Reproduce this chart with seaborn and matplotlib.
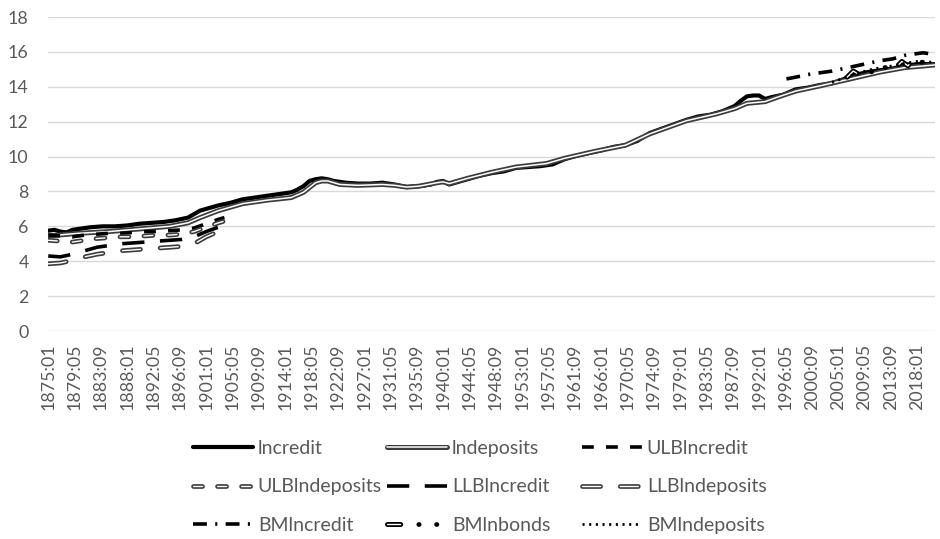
import matplotlib
matplotlib.use("Agg")
import matplotlib.pyplot as plt
import matplotlib.patheffects as pe
from matplotlib.legend_handler import HandlerTuple
import numpy as np
import pandas as pd
import seaborn as sns

# ---------------- data (log levels, monthly calendar 1875:01 - 2020:12) ----------------
lncredit_years = [1875, 1876, 1877, 1878, 1879, 1880, 1882, 1884, 1886, 1888, 1890, 1892, 1894,
                  1896, 1898, 1899, 1900, 1901, 1902, 1903, 1905, 1907, 1909, 1911, 1913, 1915,
                  1916, 1917, 1918, 1919, 1920, 1921, 1922, 1924, 1926, 1928, 1930, 1931, 1932,
                  1934, 1936, 1938, 1939, 1940, 1941, 1942, 1944, 1946, 1948, 1950, 1952, 1954,
                  1956, 1958, 1960, 1962, 1964, 1966, 1968, 1970, 1972, 1974, 1976, 1978, 1980,
                  1982, 1984, 1986, 1988, 1989, 1990, 1991, 1992, 1993, 1994, 1996, 1998, 2000,
                  2002, 2004, 2006, 2008, 2010, 2012, 2014, 2016, 2018, 2020.9]
lncredit = [5.75, 5.8, 5.7, 5.65, 5.8, 5.85, 5.95, 6.0, 6.0, 6.05, 6.15, 6.2, 6.25,
            6.35, 6.5, 6.7, 6.9, 7.0, 7.1, 7.2, 7.35, 7.55, 7.65, 7.75, 7.85, 7.95,
            8.1, 8.3, 8.6, 8.7, 8.75, 8.7, 8.6, 8.5, 8.45, 8.45, 8.5, 8.45, 8.4,
            8.25, 8.3, 8.4, 8.55, 8.6, 8.4, 8.5, 8.7, 8.9, 9.05, 9.15, 9.35, 9.4,
            9.45, 9.55, 9.85, 10.05, 10.2, 10.35, 10.55, 10.65, 10.9, 11.35, 11.6, 11.85, 12.1,
            12.3, 12.4, 12.6, 12.9, 13.2, 13.45, 13.5, 13.5, 13.3, 13.4, 13.55, 13.85, 13.95,
            14.1, 14.2, 14.45, 14.7, 14.85, 14.95, 15.05, 15.2, 15.3, 15.3]

lndeposits_years = [1875, 1880, 1885, 1890, 1895, 1898, 1900, 1903, 1907, 1911, 1915, 1917,
                    1919, 1920, 1921, 1923, 1926, 1930, 1932, 1934, 1936, 1939, 1940, 1941,
                    1944, 1948, 1952, 1957, 1960, 1965, 1970, 1974, 1980, 1985, 1988, 1990,
                    1993, 1995, 1998, 2002, 2007, 2012, 2016, 2020.9]
lndeposits = [5.45, 5.6, 5.7, 5.85, 6.0, 6.2, 6.5, 6.9, 7.3, 7.5, 7.65, 7.95,
              8.5, 8.6, 8.6, 8.4, 8.35, 8.4, 8.35, 8.25, 8.3, 8.5, 8.55, 8.45,
              8.75, 9.1, 9.4, 9.6, 9.9, 10.3, 10.65, 11.3, 12.05, 12.45, 12.75, 13.05,
              13.15, 13.4, 13.75, 14.05, 14.45, 14.85, 15.1, 15.25]

bounds_years = [1875, 1877, 1879, 1881, 1883, 1885, 1887, 1889, 1891, 1893, 1895, 1897,
                1899, 1901, 1903, 1904]
ulb_lncredit = [5.5, 5.45, 5.4, 5.5, 5.55, 5.6, 5.6, 5.65, 5.7, 5.7, 5.75, 5.8,
                5.9, 6.15, 6.4, 6.5]
ulb_lndeposits = [5.2, 5.15, 5.1, 5.2, 5.3, 5.35, 5.4, 5.4, 5.45, 5.5, 5.5, 5.55,
                  5.7, 5.95, 6.2, 6.3]
llb_lncredit = [4.3, 4.25, 4.4, 4.6, 4.8, 4.9, 5.0, 5.05, 5.1, 5.15, 5.2, 5.25,
                5.4, 5.7, 5.95, 6.05]
llb_lndeposits = [3.85, 3.9, 4.05, 4.25, 4.4, 4.5, 4.6, 4.65, 4.7, 4.75, 4.8, 4.85,
                  5.0, 5.4, 5.7, 5.8]

bm_credit_years = [1996.5, 1998, 2000, 2002, 2004, 2006, 2008, 2010, 2012, 2014, 2016, 2018,
                   2019, 2020.9]
bm_lncredit = [14.45, 14.55, 14.7, 14.8, 14.9, 15.05, 15.2, 15.35, 15.5, 15.6, 15.8, 15.9,
               15.95, 15.85]

bm_bonds_years = [2006.5, 2007.5, 2008.5, 2009.5, 2010.5, 2011.5, 2012.5, 2013.5, 2014.5,
                  2015.5, 2016.5, 2017.5, 2018.5, 2019.5, 2020.9]
bm_lnbonds = [14.55, 14.9, 14.7, 15.05, 14.85, 15.2, 15.0, 15.35, 15.1, 15.45, 15.2, 15.6,
              15.3, 15.65, 15.35]

bm_dep_years = [2004, 2006, 2008, 2010, 2012, 2014, 2016, 2018, 2020.9]
bm_lndeposits = [14.25, 14.5, 14.75, 14.95, 15.1, 15.2, 15.35, 15.45, 15.4]

tick_labels = ["1875:01", "1879:05", "1883:09", "1888:01", "1892:05", "1896:09", "1901:01",
               "1905:05", "1909:09", "1914:01", "1918:05", "1922:09", "1927:01", "1931:05",
               "1935:09", "1940:01", "1944:05", "1948:09", "1953:01", "1957:05", "1961:09",
               "1966:01", "1970:05", "1974:09", "1979:01", "1983:05", "1987:09", "1992:01",
               "1996:05", "2000:09", "2005:01", "2009:05", "2013:09", "2018:01"]

n_months = 1752          # 1875:01 .. 2020:12


def month_index(label):
    y, m = label.split(":")
    return (int(y) - 1875) * 12 + int(m) - 1


def to_frame(years, values):
    return pd.DataFrame({"month": (np.asarray(years, float) - 1875.0) * 12.0,
                         "value": values})


# ---------------- style ----------------
sns.set_theme(style="white")
plt.rcParams["font.family"] = ["Lato", "DejaVu Sans"]
plt.rcParams["lines.scale_dashes"] = False
TEXT = "#595959"
GRID = "#d9d9d9"

fig = plt.figure(figsize=(9.4, 5.39), dpi=100)
ax = fig.add_axes([48 / 940, 1 - 331 / 539, (935 - 48) / 940, (331 - 17) / 539])


def double(outer, width):
    return [pe.Stroke(linewidth=width, foreground=outer), pe.Normal()]


# each entry: label, x years, values, list of line layers drawn on top of each other
series = [
    ("lncredit", lncredit_years, lncredit,
     [dict(color="black", linewidth=3.0, linestyle="-", solid_capstyle="round")]),
    ("lndeposits", lndeposits_years, lndeposits,
     [dict(color="white", linewidth=1.1, linestyle="-", path_effects=double("#3c3c3c", 3.6))]),
    ("ULBlncredit", bounds_years, ulb_lncredit,
     [dict(color="black", linewidth=2.6, linestyle=(0, (8.5, 8.8)))]),
    ("ULBlndeposits", bounds_years, ulb_lndeposits,
     [dict(color="white", linewidth=1.0, linestyle=(0, (6.5, 10.8)), dash_capstyle="round",
           path_effects=double("#3c3c3c", 3.4))]),
    ("LLBlncredit", bounds_years, llb_lncredit,
     [dict(color="black", linewidth=2.6, linestyle=(0, (16, 11.2)))]),
    ("LLBlndeposits", bounds_years, llb_lndeposits,
     [dict(color="white", linewidth=1.0, linestyle=(0, (13, 14.2)), dash_capstyle="round",
           path_effects=double("#3c3c3c", 3.4))]),
    ("BMlncredit", bm_credit_years, bm_lncredit,
     [dict(color="black", linewidth=2.6, linestyle=(0, (10, 6, 1.5, 6)))]),
    ("BMlnbonds", bm_bonds_years, bm_lnbonds,
     [dict(color="white", linewidth=1.0, linestyle=(0, (9.5, 39.1)), dash_capstyle="round",
           path_effects=double("black", 3.6)),
      dict(color="black", linewidth=3.4, linestyle=(26.1, (0.3, 12.5, 0.3, 35.5)),
           dash_capstyle="round")]),
    ("BMlndeposits", bm_dep_years, bm_lndeposits,
     [dict(color="black", linewidth=2.0, linestyle=(0, (1.5, 3.3)))]),
]

legend_handles = {}
for name, yrs, vals, layers in series:
    df = to_frame(yrs, vals)
    drawn = []
    for kw in layers:
        n_before = len(ax.lines)
        sns.lineplot(data=df, x="month", y="value", ax=ax, sort=False,
                     estimator=None, errorbar=None, legend=False, **kw)
        drawn.append(ax.lines[n_before])
    legend_handles[name] = drawn[0] if len(drawn) == 1 else tuple(drawn)

# ---------------- axes ----------------
ax.set_xlim(-0.5, n_months - 0.5)
ax.set_ylim(0, 18)
ax.set_yticks(np.arange(0, 19, 2))
ax.set_xticks([month_index(t) for t in tick_labels])
ax.set_xticklabels(tick_labels, rotation=90, fontsize=12.8, color=TEXT)
ax.tick_params(axis="y", labelsize=12.8, labelcolor=TEXT, length=0, pad=14)
ax.tick_params(axis="x", length=0, pad=9)
ax.grid(axis="y", color=GRID, linewidth=1.0)
ax.grid(axis="x", visible=False)
ax.set_xlabel("")
ax.set_ylabel("")
for s in ax.spines.values():
    s.set_visible(False)
ax.set_axisbelow(True)

# ---------------- legend: three columns, three rows ----------------
columns = [["lncredit", "ULBlndeposits", "BMlncredit"],
           ["lndeposits", "LLBlncredit", "BMlnbonds"],
           ["ULBlncredit", "LLBlndeposits", "BMlndeposits"]]
col_x = [193, 387, 582]
fs = 14
for cx, names in zip(col_x, columns):
    leg = fig.legend([legend_handles[n] for n in names], names, loc="upper left",
                     bbox_to_anchor=(cx / 940, 1 - 440 / 539), frameon=False,
                     fontsize=fs, handlelength=60 / (fs * 100 / 72),
                     handletextpad=0.25, labelspacing=1.1, borderpad=0,
                     borderaxespad=0,
                     handler_map={tuple: HandlerTuple(ndivide=1, pad=0)})
    for t in leg.get_texts():
        t.set_color(TEXT)

fig.savefig("out.png", dpi=100)
